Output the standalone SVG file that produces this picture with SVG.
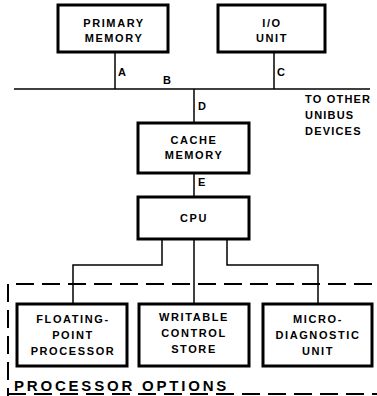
<svg xmlns="http://www.w3.org/2000/svg" width="377" height="396" viewBox="0 0 377 396">
<style>
.box{fill:#fff;stroke:#000;stroke-width:3}
.t{font-family:"Liberation Sans",Arial,sans-serif;font-weight:bold;font-size:11px;letter-spacing:1.6px;fill:#000;text-anchor:middle}
.l{font-family:"Liberation Sans",Arial,sans-serif;font-weight:bold;font-size:11px;letter-spacing:1.2px;fill:#000}
.ln{fill:none;stroke:#000;stroke-width:1.5}
.dash{fill:none;stroke:#000;stroke-width:2;stroke-dasharray:18 8}
</style>
<rect width="377" height="396" fill="#fff"/>
<g id="connectors">
<line class="ln" x1="14" y1="89" x2="370" y2="89"/>
<line class="ln" x1="115" y1="52" x2="115" y2="89"/>
<line class="ln" x1="274" y1="52" x2="274" y2="89"/>
<line class="ln" x1="194" y1="89" x2="194" y2="123"/>
<line class="ln" x1="194" y1="173" x2="194" y2="197"/>
<polyline class="ln" points="162,239 162,265 73,265 73,304"/>
<line class="ln" x1="194" y1="239" x2="194" y2="304"/>
<polyline class="ln" points="227,239 227,265 318,265 318,304"/>
<text class="l" x="118" y="76">A</text>
<text class="l" x="163" y="84">B</text>
<text class="l" x="277" y="76">C</text>
<text class="l" x="198" y="110">D</text>
<text class="l" x="198" y="186">E</text>
</g>
<g id="bus-label">
<text class="l" x="305" y="103">TO OTHER</text>
<text class="l" x="305" y="119">UNIBUS</text>
<text class="l" x="305" y="135">DEVICES</text>
</g>
<g id="primary-memory">
<rect class="box" x="58" y="5" width="110" height="47"/>
<text class="t" x="114" y="27">PRIMARY</text>
<text class="t" x="114" y="42">MEMORY</text>
</g>
<g id="io-unit">
<rect class="box" x="218" y="5" width="107" height="47"/>
<text class="t" x="272" y="27">I/O</text>
<text class="t" x="272" y="42">UNIT</text>
</g>
<g id="cache-memory">
<rect class="box" x="138" y="123" width="111" height="50"/>
<text class="t" x="194" y="144">CACHE</text>
<text class="t" x="194" y="159">MEMORY</text>
</g>
<g id="cpu">
<rect class="box" x="138" y="197" width="111" height="42"/>
<text class="t" x="194" y="222">CPU</text>
</g>
<g id="processor-options">
<polyline class="dash" points="372,284 8,284 8,396"/>
<line class="dash" x1="8" y1="394" x2="377" y2="394"/>
<text x="14" y="391" style="font-family:'Liberation Sans',Arial,sans-serif;font-weight:bold;font-size:15px;letter-spacing:2.8px">PROCESSOR OPTIONS</text>
</g>
<g id="floating-point">
<rect class="box" x="17" y="304" width="110" height="62"/>
<text class="t" x="73" y="323">FLOATING-</text>
<text class="t" x="73" y="339">POINT</text>
<text class="t" x="73" y="355">PROCESSOR</text>
</g>
<g id="writable-control-store">
<rect class="box" x="139" y="304" width="110" height="62"/>
<text class="t" x="194" y="321">WRITABLE</text>
<text class="t" x="194" y="337">CONTROL</text>
<text class="t" x="194" y="353">STORE</text>
</g>
<g id="micro-diagnostic">
<rect class="box" x="263" y="304" width="109" height="62"/>
<text class="t" x="318" y="323">MICRO-</text>
<text class="t" x="318" y="339">DIAGNOSTIC</text>
<text class="t" x="318" y="355">UNIT</text>
</g>
</svg>
